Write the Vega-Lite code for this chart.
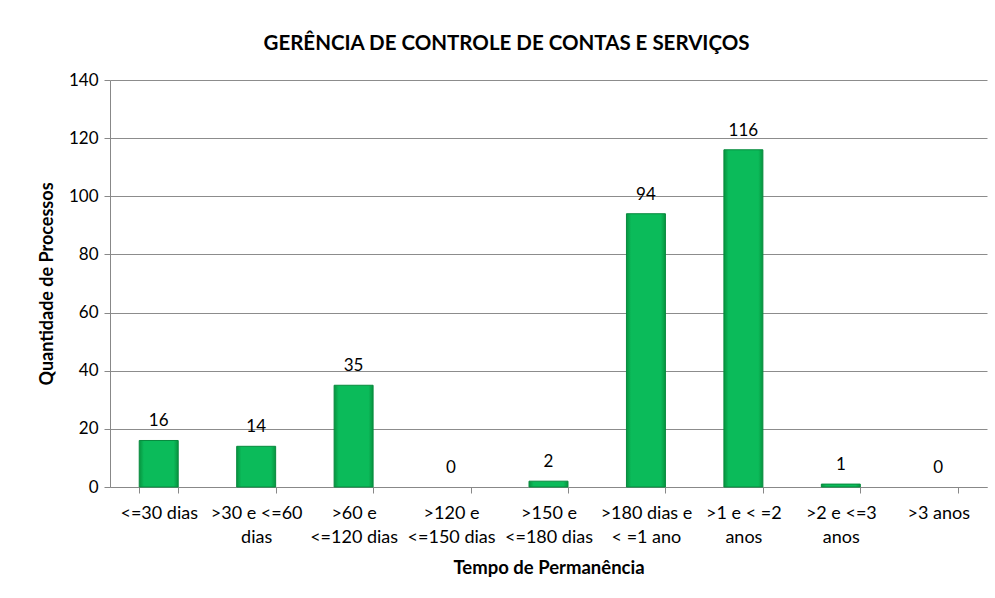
{
  "$schema": "https://vega.github.io/schema/vega-lite/v6.json",
  "width": 877,
  "height": 407,
  "autosize": {"type": "none"},
  "padding": {"left": 110, "top": 80, "right": 8, "bottom": 111},
  "background": "white",
  "config": {"view": {"stroke": null}, "font": "Lato"},
  "title": {
    "text": "GERÊNCIA DE CONTROLE DE CONTAS E SERVIÇOS",
    "font": "Lato",
    "fontSize": 20.5,
    "fontWeight": "bold",
    "color": "#000000",
    "anchor": "middle",
    "offset": 17,
    "dx": -42
  },
  "data": {
    "values": [
      {"faixa": "<=30 dias", "qtd": 16},
      {"faixa": ">30 e <=60|dias", "qtd": 14},
      {"faixa": ">60 e|<=120 dias", "qtd": 35},
      {"faixa": ">120 e|<=150 dias", "qtd": 0},
      {"faixa": ">150 e|<=180 dias", "qtd": 2},
      {"faixa": ">180 dias e|< =1 ano", "qtd": 94},
      {"faixa": ">1 e < =2|anos", "qtd": 116},
      {"faixa": ">2 e <=3|anos", "qtd": 1},
      {"faixa": ">3 anos", "qtd": 0}
    ]
  },
  "encoding": {
    "x": {
      "field": "faixa",
      "type": "nominal",
      "sort": null,
      "scale": {
        "domain": ["<=30 dias", ">30 e <=60|dias", ">60 e|<=120 dias", ">120 e|<=150 dias", ">150 e|<=180 dias", ">180 dias e|< =1 ano", ">1 e < =2|anos", ">2 e <=3|anos", ">3 anos"],
        "paddingInner": 0.6,
        "paddingOuter": 0.3
      },
      "axis": {
        "title": "Tempo de Permanência",
        "titleFont": "Lato",
        "titleFontSize": 18.5,
        "titleFontWeight": "bold",
        "titleColor": "#000",
        "titlePadding": 12,
        "labelExpr": "split(datum.label, '|')",
        "labelAngle": 0,
        "labelFont": "Lato",
        "labelFontSize": 18,
        "labelColor": "#000",
        "labelLineHeight": 24,
        "labelPadding": 11,
        "labelBaseline": "top",
        "labelOverlap": false,
        "tickBand": "extent",
        "tickColor": "#888888",
        "tickSize": 6,
        "domainColor": "#888888",
        "grid": false
      }
    },
    "y": {
      "field": "qtd",
      "type": "quantitative",
      "scale": {"domain": [0, 140], "nice": false},
      "axis": {
        "title": "Quantidade de Processos",
        "titleFont": "Lato",
        "titleFontSize": 18,
        "titleFontWeight": "bold",
        "titleColor": "#000",
        "titlePadding": 12,
        "values": [0, 20, 40, 60, 80, 100, 120, 140],
        "labelFont": "Lato",
        "labelFontSize": 17,
        "labelColor": "#000",
        "labelPadding": 6,
        "tickColor": "#888888",
        "tickSize": 6,
        "domainColor": "#888888",
        "gridColor": "#8c8c8c",
        "gridWidth": 1
      }
    }
  },
  "layer": [
    {
      "transform": [{"filter": "datum.qtd > 0"}],
      "mark": {
        "type": "bar",
        "stroke": "#078a3e",
        "strokeWidth": 1,
        "color": {
          "gradient": "linear",
          "x1": 0, "y1": 0, "x2": 1, "y2": 0,
          "stops": [
            {"offset": 0, "color": "#07943f"},
            {"offset": 0.12, "color": "#0bbb5a"},
            {"offset": 0.88, "color": "#0bbb5a"},
            {"offset": 1, "color": "#07943f"}
          ]
        }
      }
    },
    {
      "mark": {
        "type": "text",
        "baseline": "bottom",
        "dy": -10,
        "font": "Lato",
        "fontSize": 17,
        "color": "#000"
      },
      "encoding": {"text": {"field": "qtd", "type": "quantitative"}}
    }
  ]
}
